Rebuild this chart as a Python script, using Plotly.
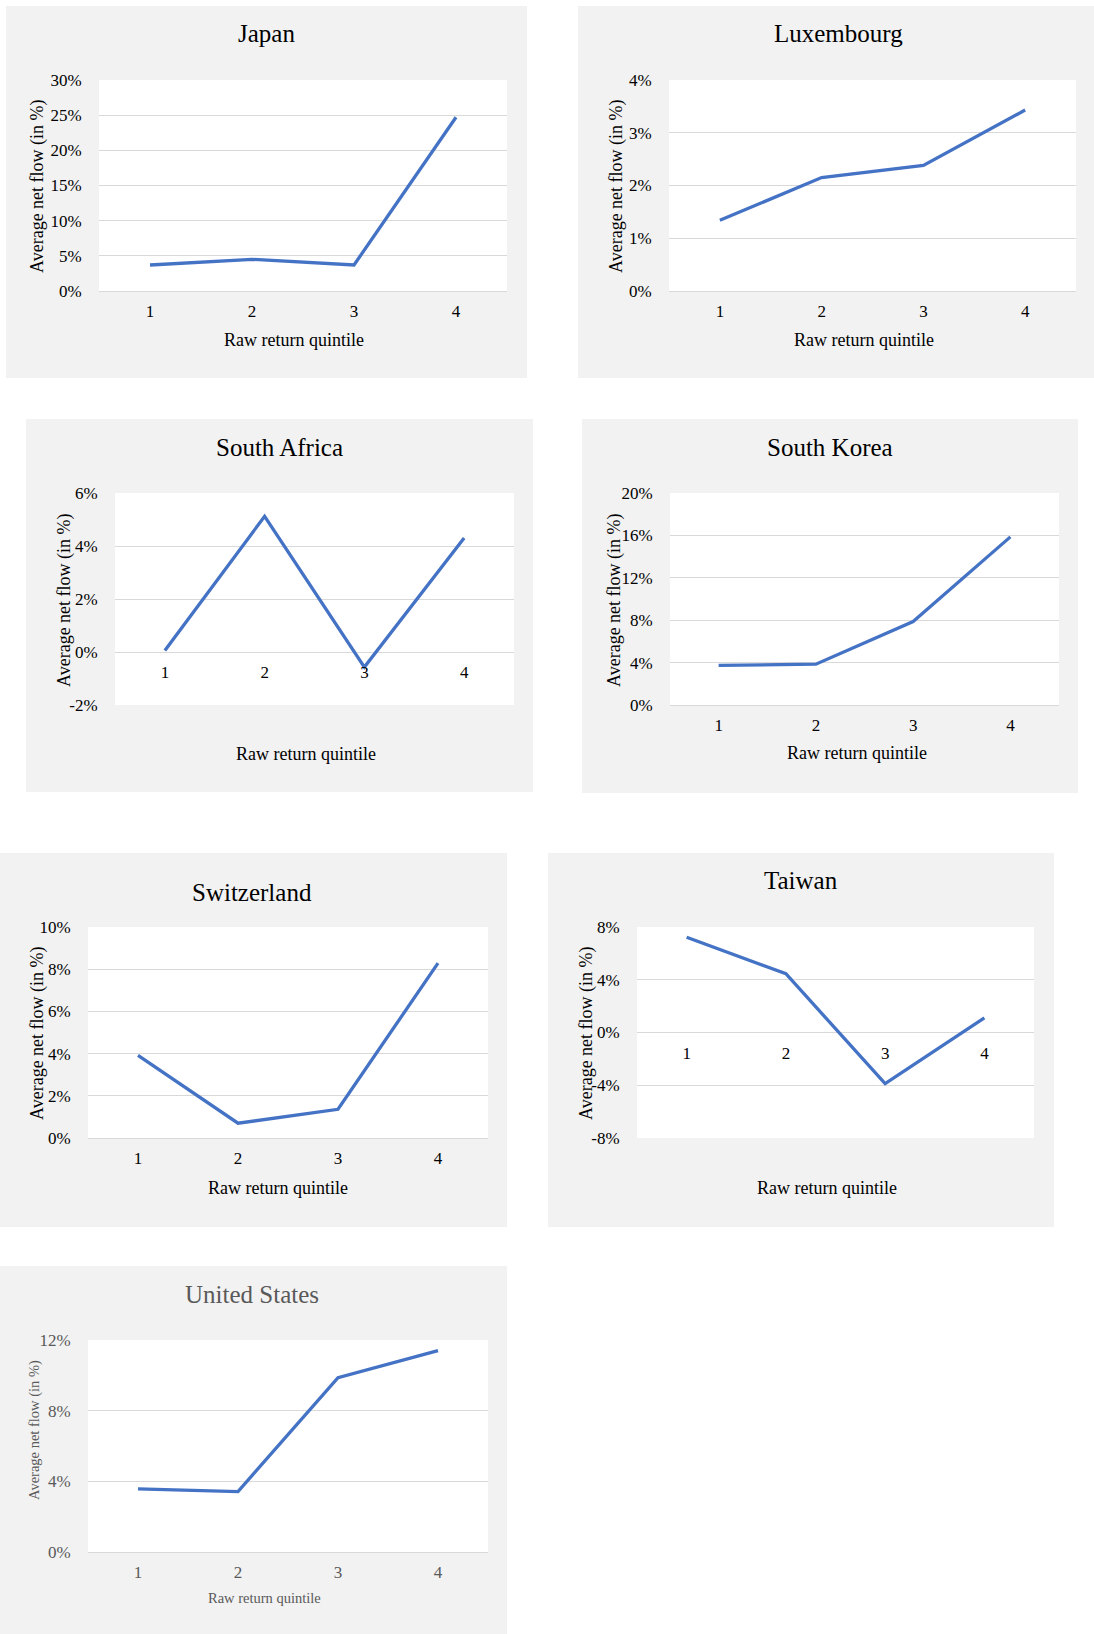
import plotly.graph_objects as go

W, H = 1094, 1634

# ---------------- data ----------------
countries = ["Japan", "Luxembourg", "South Africa", "South Korea",
             "Switzerland", "Taiwan", "United States"]
quintiles = [1, 2, 3, 4]
japan = [3.7, 4.5, 3.7, 24.7]
luxembourg = [1.34, 2.15, 2.38, 3.43]
south_africa = [0.06, 5.12, -0.57, 4.3]
south_korea = [3.73, 3.85, 7.87, 15.86]
switzerland = [3.92, 0.70, 1.36, 8.29]
taiwan = [7.22, 4.46, -3.88, 1.10]
united_states = [3.57, 3.42, 9.87, 11.4]

japan_ticks = [0, 5, 10, 15, 20, 25, 30]
luxembourg_ticks = [0, 1, 2, 3, 4]
south_africa_ticks = [-2, 0, 2, 4, 6]
south_korea_ticks = [0, 4, 8, 12, 16, 20]
switzerland_ticks = [0, 2, 4, 6, 8, 10]
taiwan_ticks = [-8, -4, 0, 4, 8]
united_states_ticks = [0, 4, 8, 12]

x_title = "Raw return quintile"
y_title = "Average net flow (in %)"

series = [japan, luxembourg, south_africa, south_korea, switzerland, taiwan, united_states]
ticks = [japan_ticks, luxembourg_ticks, south_africa_ticks, south_korea_ticks,
         switzerland_ticks, taiwan_ticks, united_states_ticks]

# ---------------- layout (pixels) ----------------
boxes = [
    dict(panel=(6, 6, 527, 378), plot=(99, 80, 507, 291), title=(266, 33), xt=(294, 340), yt=(38, 186)),
    dict(panel=(578, 6, 1094, 378), plot=(669, 80, 1076, 291), title=(838, 33), xt=(864, 340), yt=(617, 186)),
    dict(panel=(26, 419, 533, 792), plot=(115, 493, 514, 705), title=(279, 447), xt=(306, 754), yt=(64, 600)),
    dict(panel=(582, 419, 1078, 793), plot=(670, 493, 1059, 705), title=(830, 447), xt=(857, 753), yt=(614, 600)),
    dict(panel=(0, 853, 507, 1227), plot=(88, 927, 488, 1138), title=(252, 892), xt=(278, 1188), yt=(37, 1033)),
    dict(panel=(548, 853, 1054, 1227), plot=(637, 927, 1034, 1138), title=(801, 880), xt=(827, 1188), yt=(586, 1033)),
    dict(panel=(0, 1266, 507, 1634), plot=(88, 1340, 488, 1552), title=(252, 1294), xt=(264, 1598), yt=(34, 1430)),
]

FONT = "Liberation Serif"
BLUE = "#4472C4"
GRID = "#D9D9D9"
PANEL = "#F2F2F2"


def px(x):
    return x / W


def py(y):
    return 1 - y / H


fig = go.Figure()
shapes = []
annotations = []
layout_axes = {}

for i, (name, vals, tv, b) in enumerate(zip(countries, series, ticks, boxes)):
    n = i + 1
    xa = "x" if n == 1 else f"x{n}"
    is_us = name == "United States"
    txt_color = "#595959" if is_us else "#000000"
    axis_title_size = 14.5 if is_us else 18

    fig.add_trace(go.Scatter(
        x=quintiles, y=vals, mode="lines",
        line=dict(color=BLUE, width=3.3),
        xaxis=xa, yaxis="y" if n == 1 else f"y{n}", showlegend=False, hoverinfo="x+y",
    ))

    px0, py0, px1, py1 = b["panel"]
    shapes.append(dict(type="rect", xref="paper", yref="paper",
                       x0=px(px0), x1=px(px1), y0=py(py1), y1=py(py0),
                       fillcolor=PANEL, line=dict(width=0), layer="below"))
    lx0, ly0, lx1, ly1 = b["plot"]
    shapes.append(dict(type="rect", xref="paper", yref="paper",
                       x0=px(lx0), x1=px(lx1), y0=py(ly1), y1=py(ly0),
                       fillcolor="white", line=dict(width=0), layer="below"))

    ymin, ymax = min(tv), max(tv)
    ydom = [py(ly1), py(ly0)]
    zero_frac = (0 - ymin) / (ymax - ymin)
    xpos = ydom[0] + zero_frac * (ydom[1] - ydom[0])

    key = "" if n == 1 else str(n)
    layout_axes["xaxis" + key] = dict(
        domain=[px(lx0), px(lx1)], anchor="free", position=xpos,
        range=[0.5, 4.5], tickvals=quintiles, ticktext=[str(q) for q in quintiles],
        showgrid=False, zeroline=False, showline=False,
        ticks="outside", ticklen=5, tickcolor="rgba(0,0,0,0)",
        tickfont=dict(family=FONT, size=17, color=txt_color),
        fixedrange=True,
    )
    layout_axes["yaxis" + key] = dict(
        domain=ydom, anchor=xa, range=[ymin, ymax],
        tickvals=tv, ticktext=[f"{v}%" for v in tv],
        showgrid=True, gridcolor=GRID, gridwidth=1,
        zeroline=True, zerolinecolor=GRID, zerolinewidth=1, showline=False,
        ticks="outside", ticklen=13, tickcolor="rgba(0,0,0,0)",
        tickfont=dict(family=FONT, size=17, color=txt_color),
        fixedrange=True,
    )

    tx, ty = b["title"]
    annotations.append(dict(text=name, x=px(tx), y=py(ty), xref="paper", yref="paper",
                            xanchor="center", yanchor="middle", showarrow=False,
                            font=dict(family=FONT, size=25, color=txt_color)))
    xx, xy = b["xt"]
    annotations.append(dict(text=x_title, x=px(xx), y=py(xy), xref="paper", yref="paper",
                            xanchor="center", yanchor="middle", showarrow=False,
                            font=dict(family=FONT, size=axis_title_size, color=txt_color)))
    yx, yy = b["yt"]
    annotations.append(dict(text=y_title, x=px(yx), y=py(yy), xref="paper", yref="paper",
                            xanchor="center", yanchor="middle", showarrow=False, textangle=-90,
                            font=dict(family=FONT, size=axis_title_size, color=txt_color)))

fig.update_layout(
    width=W, height=H,
    margin=dict(l=0, r=0, t=0, b=0, autoexpand=False),
    paper_bgcolor="white", plot_bgcolor="rgba(0,0,0,0)",
    shapes=shapes, annotations=annotations,
    showlegend=False,
    **layout_axes,
)

fig.write_html(
    "out.html",
    config={"displayModeBar": False},
    post_script="document.body.style.margin='0';document.documentElement.style.margin='0';",
)
